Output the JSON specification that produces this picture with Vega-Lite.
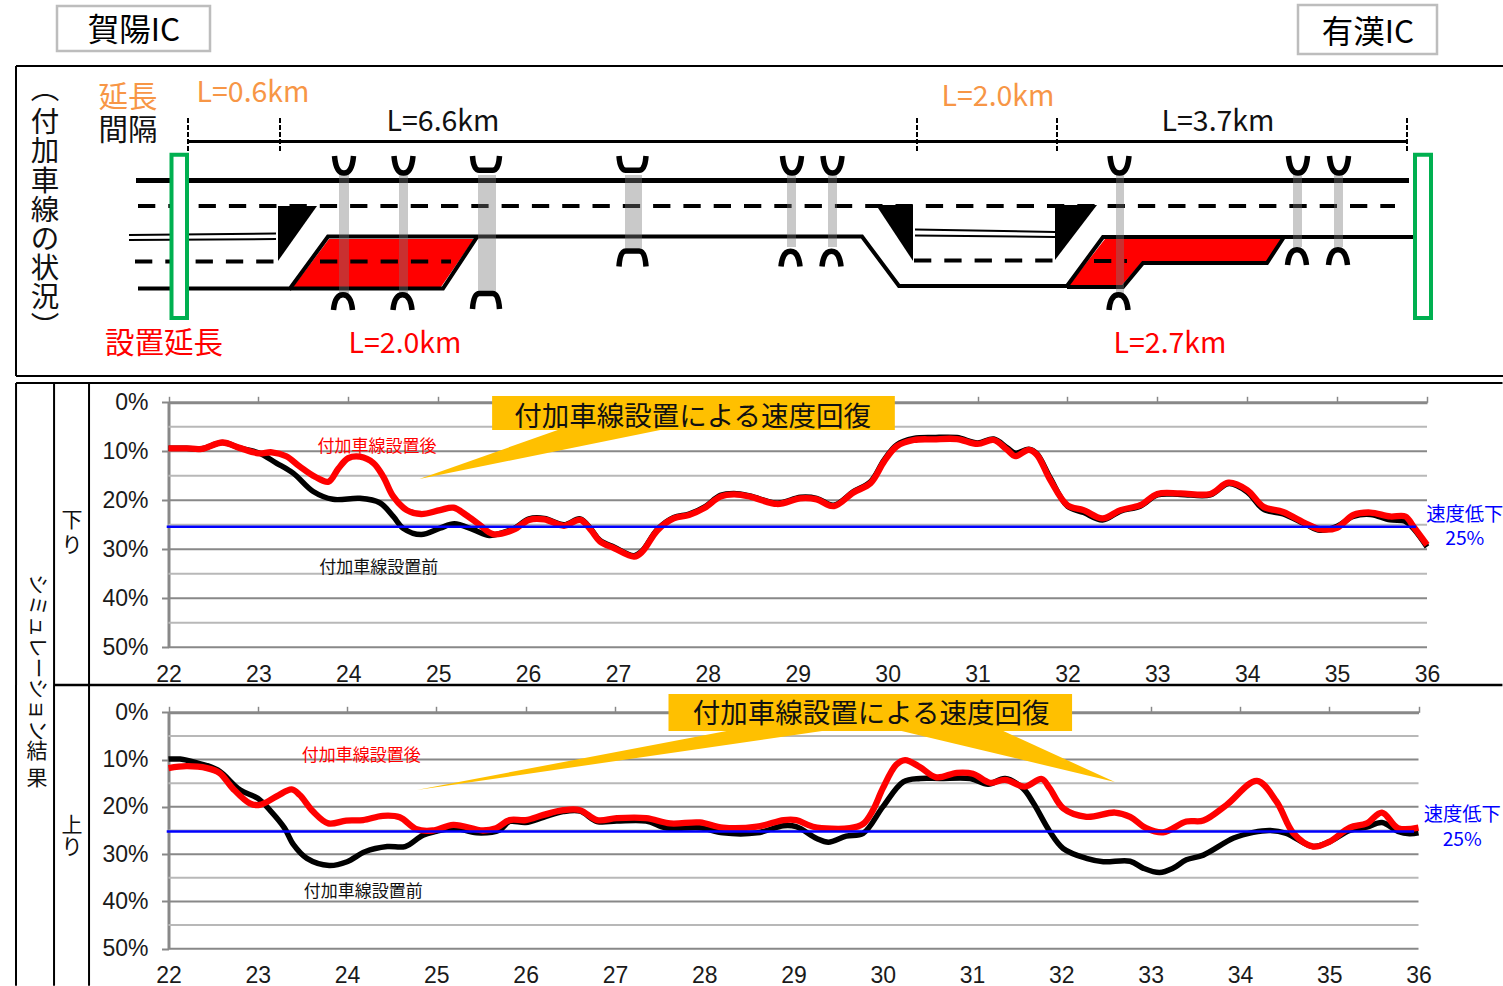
{"$schema":"https://vega.github.io/schema/vega-lite/v6.json","padding":0,"spacing":0,"bounds":"flush","background":"white","config":{"view":{"stroke":null},"text":{"font":"Noto Sans CJK JP","baseline":"middle","align":"center"},"axis":{"labelFont":"Liberation Sans","labelFontSize":23,"labelColor":"#1a1a1a","title":null,"grid":false,"labelFlush":false,"labelOverlap":false,"labelBound":false}},
"vconcat":[
{"width":1503,"height":380,
"encoding":{"x":{"field":"sx","type":"quantitative","scale":{"domain":[0,1503],"range":[0,1503]},"axis":null},"y":{"field":"sy","type":"quantitative","scale":{"domain":[0,380],"range":[0,380]},"axis":null}},
"layer":[
{"data":{"values":[{"sx":57,"sx2":210,"sy":6,"sy2":51},{"sx":1298,"sx2":1437,"sy":5,"sy2":54}]},"mark":{"type":"rect","fill":"white","stroke":"#bdbdbd","strokeWidth":2.5},"encoding":{"x2":{"field":"sx2"},"y2":{"field":"sy2"}}},
{"data":{"values":[{"sx":16,"sx2":1503,"sy":66},{"sx":16,"sx2":1503,"sy":376}]},"mark":{"type":"rule","color":"black","strokeWidth":2},"encoding":{"x2":{"field":"sx2"}}},
{"data":{"values":[{"sx":16,"sy":66,"sy2":376}]},"mark":{"type":"rule","color":"black","strokeWidth":2},"encoding":{"y2":{"field":"sy2"}}},
{"data":{"values":[{"p":"a","sy":239,"sx":329,"sx2":474},{"p":"a","sy":287,"sx":293,"sx2":441},{"p":"b","sy":239,"sx":1105,"sx2":1281},{"p":"b","sy":262,"sx":1087,"sx2":1267},{"p":"c","sy":262,"sx":1087,"sx2":1142},{"p":"c","sy":285,"sx":1069,"sx2":1122}]},"mark":{"type":"area","orient":"horizontal","color":"#FF0000"},"encoding":{"x2":{"field":"sx2"},"detail":{"field":"p"}}},
{"data":{"values":[{"p":"t1","sy":206,"sx":278,"sx2":317},{"p":"t1","sy":261,"sx":278,"sx2":278},{"p":"t2","sy":205,"sx":876,"sx2":913},{"p":"t2","sy":261,"sx":913,"sx2":913},{"p":"t3","sy":205,"sx":1055,"sx2":1097},{"p":"t3","sy":260,"sx":1055,"sx2":1055}]},"mark":{"type":"area","orient":"horizontal","color":"black"},"encoding":{"x2":{"field":"sx2"},"detail":{"field":"p"}}},
{"data":{"values":[{"sx":188,"sx2":1407,"sy":141.5}]},"mark":{"type":"rule","color":"black","strokeWidth":3},"encoding":{"x2":{"field":"sx2"}}},
{"data":{"values":[{"sx":136,"sx2":1409,"sy":180.5}]},"mark":{"type":"rule","color":"black","strokeWidth":5},"encoding":{"x2":{"field":"sx2"}}},
{"data":{"values":[{"sx":138,"sx2":1395,"sy":206},{"sx":135,"sx2":275,"sy":261.5},{"sx":320,"sx2":451,"sy":261.5},{"sx":914,"sx2":1054,"sy":260.5},{"sx":1094,"sx2":1127,"sy":261}]},"mark":{"type":"rule","color":"black","strokeWidth":4,"strokeDash":[17.3,13]},"encoding":{"x2":{"field":"sx2"}}},
{"data":{"values":[{"s":"a","sx":138,"sy":288.5},{"s":"a","sx":290,"sy":288.5},{"s":"a","sx":328,"sy":236.5},{"s":"a","sx":862,"sy":236.5},{"s":"a","sx":899,"sy":286},{"s":"a","sx":1067,"sy":286},{"s":"a","sx":1103,"sy":237},{"s":"a","sx":1413,"sy":237},{"s":"b","sx":290,"sy":288.5},{"s":"b","sx":443,"sy":288.5},{"s":"b","sx":477,"sy":237},{"s":"c","sx":1067,"sy":287},{"s":"c","sx":1123,"sy":287},{"s":"c","sx":1143,"sy":263},{"s":"c","sx":1267,"sy":263},{"s":"c","sx":1284,"sy":237}]},"mark":{"type":"line","color":"black","strokeWidth":4},"encoding":{"detail":{"field":"s"}}},
{"data":{"values":[{"s":"a","sx":129,"sy":235},{"s":"a","sx":276,"sy":233.5},{"s":"b","sx":129,"sy":240},{"s":"b","sx":276,"sy":239},{"s":"c","sx":915,"sy":229.5},{"s":"c","sx":1055,"sy":232},{"s":"d","sx":915,"sy":235.5},{"s":"d","sx":1055,"sy":237}]},"mark":{"type":"line","color":"black","strokeWidth":2},"encoding":{"detail":{"field":"s"}}},
{"data":{"values":[{"sx":188,"sy":118,"sy2":153},{"sx":280,"sy":118,"sy2":153},{"sx":917,"sy":118,"sy2":153},{"sx":1057,"sy":118,"sy2":153},{"sx":1407,"sy":118,"sy2":153}]},"mark":{"type":"rule","color":"black","strokeWidth":2,"strokeDash":[5,2]},"encoding":{"y2":{"field":"sy2"}}},
{"data":{"values":[{"sx":339,"sx2":349,"sy":175,"sy2":296},{"sx":399,"sx2":408,"sy":175,"sy2":296},{"sx":478,"sx2":496,"sy":175,"sy2":295},{"sx":625,"sx2":642,"sy":175,"sy2":248},{"sx":787,"sx2":796,"sy":175,"sy2":247},{"sx":828,"sx2":837,"sy":175,"sy2":247},{"sx":1116,"sx2":1124,"sy":175,"sy2":295},{"sx":1293,"sx2":1302,"sy":175,"sy2":247},{"sx":1334,"sx2":1343,"sy":175,"sy2":247}]},"mark":{"type":"rect","fill":"#777777","opacity":0.4},"encoding":{"x2":{"field":"sx2"},"y2":{"field":"sy2"}}},
{"data":{"values":[{"sx":344,"sy":165.5},{"sx":403.5,"sy":165.5},{"sx":792,"sy":165.5},{"sx":832.5,"sy":165.5},{"sx":1119.5,"sy":165.5},{"sx":1298,"sy":165.5},{"sx":1339,"sy":165.5}]},"mark":{"type":"point","shape":"M-1,-1 C-0.9,0.2 -0.6,0.8 0,0.8 C0.6,0.8 0.9,0.2 1,-1","size":361,"filled":false,"stroke":"black","strokeWidth":5.5,"opacity":1}},
{"data":{"values":[{"sx":343,"sy":300.5},{"sx":402.5,"sy":300.5},{"sx":790.5,"sy":257},{"sx":831.5,"sy":257},{"sx":1118.5,"sy":300.5},{"sx":1297,"sy":255.5},{"sx":1338,"sy":255.5}]},"mark":{"type":"point","shape":"M-1,1 C-0.9,0 -0.6,-0.6 0,-0.6 C0.6,-0.6 0.9,0 1,1","size":361,"filled":false,"stroke":"black","strokeWidth":5.5,"opacity":1}},
{"data":{"values":[{"sx":486,"sy":169.5},{"sx":632.5,"sy":169.5}]},"mark":{"type":"point","shape":"M-1,-1 C-0.95,-0.3 -0.8,0.05 -0.5,0.05 L0.5,0.05 C0.8,0.05 0.95,-0.3 1,-1","size":729,"filled":false,"stroke":"black","strokeWidth":5.5,"opacity":1}},
{"data":{"values":[{"sx":486,"sy":295.5},{"sx":632.5,"sy":253}]},"mark":{"type":"point","shape":"M-1,1 C-0.95,0.3 -0.8,-0.15 -0.5,-0.15 L0.5,-0.15 C0.8,-0.15 0.95,0.3 1,1","size":729,"filled":false,"stroke":"black","strokeWidth":5.5,"opacity":1}},
{"data":{"values":[{"sx":171.5,"sx2":187,"sy":154.7,"sy2":318},{"sx":1415,"sx2":1431,"sy":154.7,"sy2":318}]},"mark":{"type":"rect","fill":"white","stroke":"#00B050","strokeWidth":4},"encoding":{"x2":{"field":"sx2"},"y2":{"field":"sy2"}}},
{"data":{"values":[{"sx":134,"sy":32,"t":"賀陽IC"},{"sx":1368,"sy":34,"t":"有漢IC"}]},"mark":{"type":"text","fontSize":31.5,"color":"black"},"encoding":{"text":{"field":"t"}}},
{"data":{"values":[{"sx":128,"sy":98,"t":"延長"}]},"mark":{"type":"text","fontSize":29.5,"color":"#F79646"},"encoding":{"text":{"field":"t"}}},
{"data":{"values":[{"sx":253,"sy":93,"t":"L=0.6km"},{"sx":998,"sy":97,"t":"L=2.0km"}]},"mark":{"type":"text","fontSize":28.5,"color":"#F79646"},"encoding":{"text":{"field":"t"}}},
{"data":{"values":[{"sx":128,"sy":131,"t":"間隔"}]},"mark":{"type":"text","fontSize":29.5,"color":"#111111"},"encoding":{"text":{"field":"t"}}},
{"data":{"values":[{"sx":443,"sy":122,"t":"L=6.6km"},{"sx":1218,"sy":122,"t":"L=3.7km"},{"sx":45,"sy":90,"t":"︵"},{"sx":45,"sy":123,"t":"付"},{"sx":45,"sy":152,"t":"加"},{"sx":45,"sy":182,"t":"車"},{"sx":45,"sy":211,"t":"線"},{"sx":45,"sy":240,"t":"の"},{"sx":45,"sy":269,"t":"状"},{"sx":45,"sy":298,"t":"況"},{"sx":45,"sy":328,"t":"︶"}]},"mark":{"type":"text","fontSize":28.5,"color":"#111111"},"encoding":{"text":{"field":"t"}}},
{"data":{"values":[{"sx":164,"sy":344,"t":"設置延長"}]},"mark":{"type":"text","fontSize":29.5,"color":"#FF0000"},"encoding":{"text":{"field":"t"}}},
{"data":{"values":[{"sx":405,"sy":344,"t":"L=2.0km"},{"sx":1170,"sy":344,"t":"L=2.7km"}]},"mark":{"type":"text","fontSize":28.5,"color":"#FF0000"},"encoding":{"text":{"field":"t"}}}
]},
{"width":1503,"height":305,"resolve":{"axis":{"x":"independent"}},
"encoding":{"y":{"field":"pct","type":"quantitative","scale":{"domain":[0,50],"range":[22.3,267.3]},"axis":{"orient":"left","offset":-168.5,"values":[0,10,20,30,40,50],"labelExpr":"datum.value + '%'","domainColor":"#888888","domainWidth":3,"tickColor":"#888888","tickWidth":2,"tickSize":7,"labelPadding":13.5}},"x":{"field":"km","type":"quantitative","scale":{"domain":[22,36],"range":[168.5,1427]},"axis":null}},
"layer":[
{"data":{"values":[{"km":22,"km2":36,"pct":5},{"km":22,"km2":36,"pct":15},{"km":22,"km2":36,"pct":25},{"km":22,"km2":36,"pct":35},{"km":22,"km2":36,"pct":45}]},"mark":{"type":"rule","color":"#b8b8b8","strokeWidth":2},"encoding":{"x":{"field":"km","type":"quantitative","scale":{"domain":[22,36],"range":[168.5,1427]},"axis":{"orient":"top","offset":-22.3,"values":[22,23,24,25,26,27,28,29,30,31,32,33,34,35,36],"labels":false,"domainColor":"#888888","domainWidth":3,"tickColor":"#888888","tickWidth":1.5,"tickSize":6}},"x2":{"field":"km2"}}},
{"data":{"values":[{"km":22,"km2":36,"pct":10},{"km":22,"km2":36,"pct":20},{"km":22,"km2":36,"pct":30},{"km":22,"km2":36,"pct":40},{"km":22,"km2":36,"pct":50}]},"mark":{"type":"rule","color":"#888888","strokeWidth":2},"encoding":{"x":{"field":"km","type":"quantitative","scale":{"domain":[22,36],"range":[168.5,1427]},"axis":{"orient":"bottom","offset":-38,"values":[22,23,24,25,26,27,28,29,30,31,32,33,34,35,36],"domain":false,"ticks":false,"labelPadding":16.5,"format":"d"}},"x2":{"field":"km2"}}},
{"data":{"values":[{"km":20.304,"pct":-3.94,"pct2":57.7},{"km":20.727,"pct":-3.94,"pct2":57.7},{"km":21.116,"pct":-3.94,"pct2":57.7}]},"mark":{"type":"rule","color":"black","strokeWidth":2},"encoding":{"y2":{"field":"pct2"}}},
{"data":{"values":[{"km":20.304,"km2":36.84,"pct":-3.94}]},"mark":{"type":"rule","color":"black","strokeWidth":2},"encoding":{"x2":{"field":"km2"}}},
{"data":{"values":[{"km":22,"pct":9.4},{"km":22.2,"pct":9.4},{"km":22.37,"pct":9.5},{"km":22.6,"pct":8.2},{"km":22.79,"pct":9.3},{"km":23,"pct":10.3},{"km":23.2,"pct":12.4},{"km":23.39,"pct":14.5},{"km":23.61,"pct":18.2},{"km":23.83,"pct":19.8},{"km":24.13,"pct":19.6},{"km":24.35,"pct":20.5},{"km":24.5,"pct":23.3},{"km":24.61,"pct":25.7},{"km":24.81,"pct":27},{"km":25.02,"pct":25.7},{"km":25.18,"pct":24.8},{"km":25.39,"pct":26},{"km":25.57,"pct":27.2},{"km":25.7,"pct":26.7},{"km":25.84,"pct":25.8},{"km":26.01,"pct":23.8},{"km":26.18,"pct":23.7},{"km":26.4,"pct":25},{"km":26.58,"pct":23.8},{"km":26.7,"pct":25.9},{"km":26.8,"pct":28.2},{"km":26.96,"pct":29.6},{"km":27.18,"pct":31.3},{"km":27.27,"pct":30.3},{"km":27.44,"pct":25.9},{"km":27.62,"pct":23.5},{"km":27.79,"pct":22.8},{"km":27.96,"pct":21.4},{"km":28.14,"pct":19},{"km":28.29,"pct":18.6},{"km":28.47,"pct":19.1},{"km":28.77,"pct":20.6},{"km":29.03,"pct":19.4},{"km":29.21,"pct":19.6},{"km":29.4,"pct":21},{"km":29.62,"pct":18.2},{"km":29.81,"pct":16.2},{"km":29.96,"pct":11.8},{"km":30.1,"pct":8.7},{"km":30.29,"pct":7.4},{"km":30.51,"pct":7.2},{"km":30.77,"pct":7.2},{"km":31,"pct":8.3},{"km":31.18,"pct":7.5},{"km":31.33,"pct":9.3},{"km":31.42,"pct":10.4},{"km":31.57,"pct":9.6},{"km":31.66,"pct":10.5},{"km":31.81,"pct":15.5},{"km":32,"pct":21.2},{"km":32.18,"pct":22.5},{"km":32.39,"pct":24},{"km":32.59,"pct":22.2},{"km":32.81,"pct":21.2},{"km":33,"pct":18.9},{"km":33.26,"pct":18.8},{"km":33.59,"pct":18.9},{"km":33.79,"pct":16.6},{"km":34,"pct":18.3},{"km":34.18,"pct":21.8},{"km":34.4,"pct":22.8},{"km":34.66,"pct":25},{"km":34.81,"pct":26.1},{"km":35,"pct":25.3},{"km":35.18,"pct":23.3},{"km":35.37,"pct":22.9},{"km":35.59,"pct":24},{"km":35.76,"pct":24.3},{"km":35.85,"pct":25.8},{"km":36,"pct":29.5}]},"mark":{"type":"line","color":"black","strokeWidth":5.5,"interpolate":"catmull-rom"}},
{"data":{"values":[{"km":22,"pct":9.4},{"km":22.2,"pct":9.4},{"km":22.37,"pct":9.5},{"km":22.6,"pct":8.2},{"km":22.79,"pct":9.3},{"km":23,"pct":10.4},{"km":23.15,"pct":10.2},{"km":23.31,"pct":11},{"km":23.46,"pct":13.1},{"km":23.63,"pct":15.2},{"km":23.78,"pct":16.2},{"km":23.89,"pct":13.5},{"km":24,"pct":11.4},{"km":24.13,"pct":11.1},{"km":24.28,"pct":12.4},{"km":24.39,"pct":15.2},{"km":24.5,"pct":19.2},{"km":24.65,"pct":22},{"km":24.81,"pct":22.8},{"km":25.02,"pct":22},{"km":25.17,"pct":21.5},{"km":25.31,"pct":23},{"km":25.46,"pct":25},{"km":25.61,"pct":26.9},{"km":25.84,"pct":26},{"km":26.01,"pct":24},{"km":26.18,"pct":23.9},{"km":26.4,"pct":25.2},{"km":26.58,"pct":24},{"km":26.7,"pct":26.1},{"km":26.8,"pct":28.4},{"km":26.96,"pct":29.8},{"km":27.18,"pct":31.5},{"km":27.27,"pct":30.5},{"km":27.44,"pct":26.1},{"km":27.62,"pct":23.7},{"km":27.79,"pct":23},{"km":27.96,"pct":21.6},{"km":28.14,"pct":19.25},{"km":28.29,"pct":18.8},{"km":28.47,"pct":19.25},{"km":28.77,"pct":20.75},{"km":29.03,"pct":19.6},{"km":29.21,"pct":19.8},{"km":29.4,"pct":21.2},{"km":29.62,"pct":18.4},{"km":29.81,"pct":16.5},{"km":29.96,"pct":12.1},{"km":30.1,"pct":9},{"km":30.29,"pct":7.7},{"km":30.51,"pct":7.55},{"km":30.77,"pct":7.5},{"km":31,"pct":8.5},{"km":31.18,"pct":7.7},{"km":31.33,"pct":9.7},{"km":31.42,"pct":11},{"km":31.57,"pct":9.7},{"km":31.66,"pct":10.7},{"km":31.81,"pct":15.9},{"km":32,"pct":21},{"km":32.18,"pct":22},{"km":32.39,"pct":23.7},{"km":32.59,"pct":22},{"km":32.81,"pct":21},{"km":33,"pct":18.7},{"km":33.26,"pct":18.6},{"km":33.59,"pct":18.7},{"km":33.79,"pct":16.4},{"km":34,"pct":17.9},{"km":34.18,"pct":21.3},{"km":34.4,"pct":22.4},{"km":34.66,"pct":24.8},{"km":34.81,"pct":25.9},{"km":35,"pct":25.6},{"km":35.18,"pct":23},{"km":35.37,"pct":22.5},{"km":35.59,"pct":23.3},{"km":35.76,"pct":23.3},{"km":35.85,"pct":25.4},{"km":36,"pct":29.1}]},"mark":{"type":"line","color":"#FF0000","strokeWidth":6.3,"interpolate":"catmull-rom"}},
{"data":{"values":[{"km":21.98,"km2":35.88,"pct":25.4}]},"mark":{"type":"rule","color":"#0000FF","strokeWidth":2.5},"encoding":{"x2":{"field":"km2"}}},
{"data":{"values":[{"km":24.79,"km2":24.79,"pct":15.65},{"km":26.33,"km2":27.47,"pct":5.65}]},"mark":{"type":"area","orient":"horizontal","color":"#FFC000"},"encoding":{"x2":{"field":"km2"}}},
{"data":{"values":[{"km":25.6,"km2":30.08,"pct":-1.29,"pct2":5.65}]},"mark":{"type":"rect","color":"#FFC000"},"encoding":{"x2":{"field":"km2"},"y2":{"field":"pct2"}}},
{"data":{"values":[{"km":27.83,"pct":3.2,"t":"付加車線設置による速度回復"}]},"mark":{"type":"text","fontSize":27.5,"color":"#111111"},"encoding":{"text":{"field":"t"}}},
{"data":{"values":[{"km":24.32,"pct":9.2,"t":"付加車線設置後"}]},"mark":{"type":"text","fontSize":17,"color":"#FF0000"},"encoding":{"text":{"field":"t"}}},
{"data":{"values":[{"km":24.34,"pct":33.9,"t":"付加車線設置前"}]},"mark":{"type":"text","fontSize":17,"color":"#111111"},"encoding":{"text":{"field":"t"}}},
{"data":{"values":[{"km":36.42,"pct":23,"t":"速度低下"},{"km":36.42,"pct":27.9,"t":"25%"}]},"mark":{"type":"text","fontSize":19.3,"color":"#0000FF"},"encoding":{"text":{"field":"t"}}},
{"data":{"values":[{"km":20.927,"pct":24.2,"t":"下"},{"km":20.927,"pct":29.3,"t":"り"}]},"mark":{"type":"text","fontSize":21,"color":"#111111"},"encoding":{"text":{"field":"t"}}},
{"data":{"values":[{"km":20.537,"pct":52.08,"t":"シミュレーション"}]},"mark":{"type":"text","fontSize":21,"angle":90,"color":"#111111"},"encoding":{"text":{"field":"t"}}}
]},
{"width":1503,"height":301,"resolve":{"axis":{"x":"independent"}},
"encoding":{"y":{"field":"pct","type":"quantitative","scale":{"domain":[0,50],"range":[27.3,263.7]},"axis":{"orient":"left","offset":-168.5,"values":[0,10,20,30,40,50],"labelExpr":"datum.value + '%'","domainColor":"#888888","domainWidth":3,"tickColor":"#888888","tickWidth":2,"tickSize":7,"labelPadding":13.5}},"x":{"field":"km","type":"quantitative","scale":{"domain":[22,36],"range":[168.5,1418.5]},"axis":null}},
"layer":[
{"data":{"values":[{"km":22,"km2":36,"pct":5},{"km":22,"km2":36,"pct":15},{"km":22,"km2":36,"pct":25},{"km":22,"km2":36,"pct":35},{"km":22,"km2":36,"pct":45}]},"mark":{"type":"rule","color":"#b8b8b8","strokeWidth":2},"encoding":{"x":{"field":"km","type":"quantitative","scale":{"domain":[22,36],"range":[168.5,1418.5]},"axis":{"orient":"top","offset":-27.3,"values":[22,23,24,25,26,27,28,29,30,31,32,33,34,35,36],"labels":false,"domainColor":"#888888","domainWidth":3,"tickColor":"#888888","tickWidth":1.5,"tickSize":6}},"x2":{"field":"km2"}}},
{"data":{"values":[{"km":22,"km2":36,"pct":10},{"km":22,"km2":36,"pct":20},{"km":22,"km2":36,"pct":30},{"km":22,"km2":36,"pct":40},{"km":22,"km2":36,"pct":50}]},"mark":{"type":"rule","color":"#888888","strokeWidth":2},"encoding":{"x":{"field":"km","type":"quantitative","scale":{"domain":[22,36],"range":[168.5,1418.5]},"axis":{"orient":"bottom","offset":-37.3,"values":[22,23,24,25,26,27,28,29,30,31,32,33,34,35,36],"domain":false,"ticks":false,"labelPadding":16,"format":"d"}},"x2":{"field":"km2"}}},
{"data":{"values":[{"km":20.292,"pct":-5.77,"pct2":57.86},{"km":20.718,"pct":-5.77,"pct2":57.86},{"km":21.11,"pct":-5.77,"pct2":57.86}]},"mark":{"type":"rule","color":"black","strokeWidth":2},"encoding":{"y2":{"field":"pct2"}}},
{"data":{"values":[{"km":20.718,"km2":36.94,"pct":-5.77}]},"mark":{"type":"rule","color":"black","strokeWidth":2.5},"encoding":{"x2":{"field":"km2"}}},
{"data":{"values":[{"km":22,"pct":9.9},{"km":22.13,"pct":9.9},{"km":22.3,"pct":10.6},{"km":22.55,"pct":12.2},{"km":22.8,"pct":16.4},{"km":23,"pct":18.2},{"km":23.15,"pct":21},{"km":23.3,"pct":24.5},{"km":23.4,"pct":28},{"km":23.55,"pct":30.9},{"km":23.8,"pct":32.4},{"km":24,"pct":31.6},{"km":24.2,"pct":29.5},{"km":24.45,"pct":28.4},{"km":24.65,"pct":28.4},{"km":24.85,"pct":26},{"km":25,"pct":25.2},{"km":25.2,"pct":24.5},{"km":25.45,"pct":25.5},{"km":25.71,"pct":24.9},{"km":25.82,"pct":23.1},{"km":26,"pct":23.3},{"km":26.2,"pct":22.2},{"km":26.42,"pct":21},{"km":26.61,"pct":20.9},{"km":26.8,"pct":23.1},{"km":27.02,"pct":23},{"km":27.35,"pct":23},{"km":27.58,"pct":24.5},{"km":27.95,"pct":24.4},{"km":28.21,"pct":25.5},{"km":28.59,"pct":25.5},{"km":28.89,"pct":24},{"km":29.03,"pct":24.2},{"km":29.26,"pct":26.7},{"km":29.39,"pct":27.5},{"km":29.59,"pct":26.2},{"km":29.78,"pct":25.6},{"km":30,"pct":20},{"km":30.23,"pct":14.7},{"km":30.42,"pct":14},{"km":30.64,"pct":14},{"km":30.98,"pct":14},{"km":31.18,"pct":15.2},{"km":31.37,"pct":14},{"km":31.57,"pct":16.1},{"km":31.69,"pct":19.3},{"km":31.87,"pct":25.2},{"km":32.02,"pct":28.8},{"km":32.28,"pct":30.9},{"km":32.47,"pct":31.6},{"km":32.77,"pct":31.5},{"km":32.92,"pct":33},{"km":33.1,"pct":33.9},{"km":33.25,"pct":33},{"km":33.4,"pct":31.2},{"km":33.59,"pct":30.2},{"km":33.93,"pct":26.6},{"km":34.15,"pct":25.4},{"km":34.34,"pct":25},{"km":34.52,"pct":25.6},{"km":34.82,"pct":28.4},{"km":35,"pct":27.4},{"km":35.23,"pct":25},{"km":35.42,"pct":24.3},{"km":35.59,"pct":23.3},{"km":35.77,"pct":25.2},{"km":35.9,"pct":25.7},{"km":36,"pct":25.5}]},"mark":{"type":"line","color":"black","strokeWidth":5.5,"interpolate":"catmull-rom"}},
{"data":{"values":[{"km":22,"pct":11.8},{"km":22.2,"pct":11.4},{"km":22.43,"pct":11.8},{"km":22.57,"pct":12.8},{"km":22.72,"pct":16.1},{"km":22.91,"pct":19.25},{"km":23.02,"pct":19.6},{"km":23.21,"pct":17.8},{"km":23.38,"pct":16.3},{"km":23.47,"pct":17.5},{"km":23.62,"pct":21},{"km":23.79,"pct":23.5},{"km":23.99,"pct":22.9},{"km":24.18,"pct":22.8},{"km":24.4,"pct":21.9},{"km":24.59,"pct":22.2},{"km":24.78,"pct":24.75},{"km":24.96,"pct":25},{"km":25.19,"pct":23.8},{"km":25.52,"pct":25},{"km":25.67,"pct":24.5},{"km":25.82,"pct":22.8},{"km":26,"pct":22.8},{"km":26.2,"pct":21.7},{"km":26.42,"pct":20.7},{"km":26.61,"pct":20.7},{"km":26.8,"pct":22.8},{"km":27.02,"pct":22.4},{"km":27.35,"pct":22.4},{"km":27.62,"pct":23.5},{"km":27.95,"pct":23.3},{"km":28.21,"pct":24.4},{"km":28.59,"pct":24.2},{"km":28.89,"pct":22.8},{"km":29.03,"pct":22.8},{"km":29.22,"pct":24.2},{"km":29.63,"pct":24.5},{"km":29.78,"pct":23.6},{"km":29.89,"pct":20.7},{"km":30,"pct":16.1},{"km":30.15,"pct":11.1},{"km":30.25,"pct":10.1},{"km":30.41,"pct":11.5},{"km":30.6,"pct":13.75},{"km":30.83,"pct":12.8},{"km":31.01,"pct":13},{"km":31.2,"pct":14.9},{"km":31.37,"pct":14.3},{"km":31.59,"pct":15.7},{"km":31.78,"pct":14.1},{"km":31.87,"pct":16.1},{"km":32.02,"pct":20.3},{"km":32.28,"pct":22.1},{"km":32.6,"pct":21.2},{"km":32.77,"pct":22.1},{"km":32.95,"pct":24.5},{"km":33.14,"pct":25.4},{"km":33.4,"pct":23.1},{"km":33.59,"pct":22.9},{"km":33.85,"pct":19.6},{"km":34.19,"pct":14.5},{"km":34.41,"pct":18.9},{"km":34.6,"pct":25.6},{"km":34.82,"pct":28.4},{"km":35,"pct":27.4},{"km":35.23,"pct":24.4},{"km":35.42,"pct":23.5},{"km":35.59,"pct":21.2},{"km":35.77,"pct":24.5},{"km":36,"pct":24.4}]},"mark":{"type":"line","color":"#FF0000","strokeWidth":6.3,"interpolate":"catmull-rom"}},
{"data":{"values":[{"km":21.98,"km2":35.95,"pct":25.2}]},"mark":{"type":"rule","color":"#0000FF","strokeWidth":2.5},"encoding":{"x2":{"field":"km2"}}},
{"data":{"values":[{"km":24.78,"km2":24.78,"pct":16.43},{"km":28.25,"km2":29.32,"pct":3.95}]},"mark":{"type":"area","orient":"horizontal","color":"#FFC000"},"encoding":{"x2":{"field":"km2"}}},
{"data":{"values":[{"km":30.21,"km2":31.35,"pct":3.95},{"km":32.6,"km2":32.6,"pct":14.74}]},"mark":{"type":"area","orient":"horizontal","color":"#FFC000"},"encoding":{"x2":{"field":"km2"}}},
{"data":{"values":[{"km":27.6,"km2":32.12,"pct":-3.87,"pct2":3.95}]},"mark":{"type":"rect","color":"#FFC000"},"encoding":{"x2":{"field":"km2"},"y2":{"field":"pct2"}}},
{"data":{"values":[{"km":29.87,"pct":0.55,"t":"付加車線設置による速度回復"}]},"mark":{"type":"text","fontSize":27.5,"color":"#111111"},"encoding":{"text":{"field":"t"}}},
{"data":{"values":[{"km":24.16,"pct":9.2,"t":"付加車線設置後"}]},"mark":{"type":"text","fontSize":17,"color":"#FF0000"},"encoding":{"text":{"field":"t"}}},
{"data":{"values":[{"km":24.18,"pct":38,"t":"付加車線設置前"}]},"mark":{"type":"text","fontSize":17,"color":"#111111"},"encoding":{"text":{"field":"t"}}},
{"data":{"values":[{"km":36.49,"pct":21.7,"t":"速度低下"},{"km":36.49,"pct":27,"t":"25%"}]},"mark":{"type":"text","fontSize":19.3,"color":"#0000FF"},"encoding":{"text":{"field":"t"}}},
{"data":{"values":[{"km":20.92,"pct":24.1,"t":"上"},{"km":20.92,"pct":28.7,"t":"り"},{"km":20.527,"pct":8.39,"t":"結"},{"km":20.527,"pct":14.1,"t":"果"}]},"mark":{"type":"text","fontSize":21,"color":"#111111"},"encoding":{"text":{"field":"t"}}}
]}
]}
